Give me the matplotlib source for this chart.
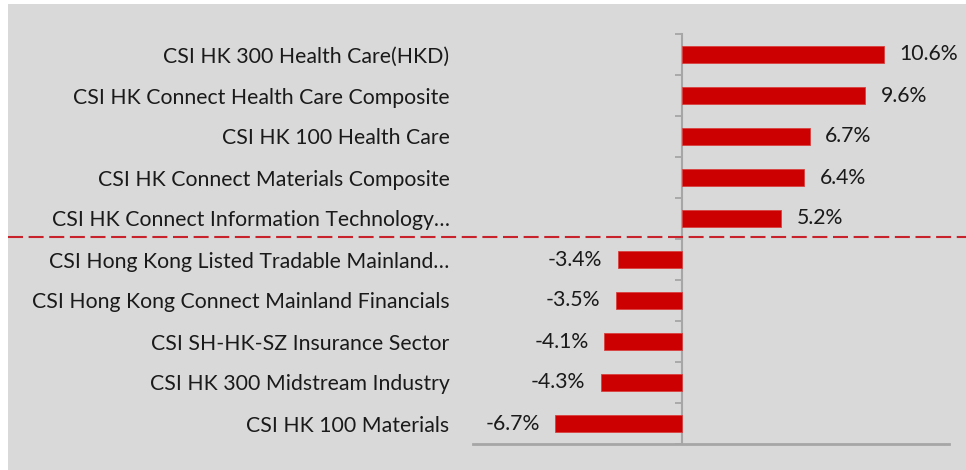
import matplotlib
matplotlib.use("Agg")
import matplotlib.pyplot as plt
import matplotlib.transforms as mtransforms
from matplotlib.patches import Rectangle

categories = [
    "CSI HK 300 Health Care(HKD)",
    "CSI HK Connect Health Care Composite",
    "CSI HK 100 Health Care",
    "CSI HK Connect Materials Composite",
    "CSI HK Connect Information Technology…",
    "CSI Hong Kong Listed Tradable Mainland…",
    "CSI Hong Kong Connect Mainland Financials",
    "CSI SH-HK-SZ Insurance Sector",
    "CSI HK 300 Midstream Industry",
    "CSI HK 100 Materials",
]
values = [10.6, 9.6, 6.7, 6.4, 5.2, -3.4, -3.5, -4.1, -4.3, -6.7]

plt.rcParams['font.family'] = ['Lato', 'DejaVu Sans']
FS = 15.3

W, H = 966, 470
fig = plt.figure(figsize=(W / 100, H / 100), dpi=100)
fig.patch.set_facecolor('white')
bg = Rectangle((8 / W, 0), 1 - 8 / W, 1 - 4 / H, transform=fig.transFigure,
               facecolor='#d9d9d9', edgecolor='none', zorder=-10)
fig.add_artist(bg)

ax = fig.add_axes([473 / W, 1 - 444 / H, (949 - 473) / W, (444 - 34) / H])
ax.set_zorder(1)
ax.set_facecolor('none')

n = len(categories)
ypos = list(range(n))
red = '#cc0000'
ax.barh(ypos, values, height=0.4, color=red, edgecolor='#d9403f', linewidth=0.6, zorder=3)

ax.set_xlim(-11, 14)
ax.set_ylim(n - 0.5, -0.5)

ax.set_yticks(ypos)
ax.set_yticklabels(categories, fontsize=FS, color='#1a1a1a')
ax.tick_params(axis='y', length=0, pad=17)
ax.set_xticks([])

for s in ['top', 'right', 'left']:
    ax.spines[s].set_visible(False)
ax.spines['bottom'].set_color('#a6a6a6')
ax.spines['bottom'].set_linewidth(2)

# vertical axis at zero with boundary ticks
sec = ax.secondary_yaxis(11 / 25)
sec.set_yticks([i - 0.5 for i in range(n + 1)])
sec.set_yticklabels([])
sec.tick_params(axis='y', length=5, width=1.3, color='#a6a6a6', direction='out')
sec.spines['left'].set_color('#a6a6a6')
sec.spines['left'].set_linewidth(1.5)

# data labels
for y, v in zip(ypos, values):
    txt = f"{v:.1f}%"
    if v >= 0:
        ax.annotate(txt, (v, y), xytext=(11, 0), textcoords='offset points',
                    ha='left', va='center', fontsize=FS, color='#1a1a1a')
    else:
        ax.annotate(txt, (v, y), xytext=(-11, 0), textcoords='offset points',
                    ha='right', va='center', fontsize=FS, color='#1a1a1a')

# dashed separator across the whole figure
trans = mtransforms.blended_transform_factory(fig.transFigure, ax.transData)
ax.plot([8 / W, 1.0], [4.45, 4.45], transform=trans, clip_on=False,
        color='#c8232c', linewidth=1.5, linestyle=(0, (7.2, 2.7)), zorder=4)

fig.savefig('out.png', dpi=100)
